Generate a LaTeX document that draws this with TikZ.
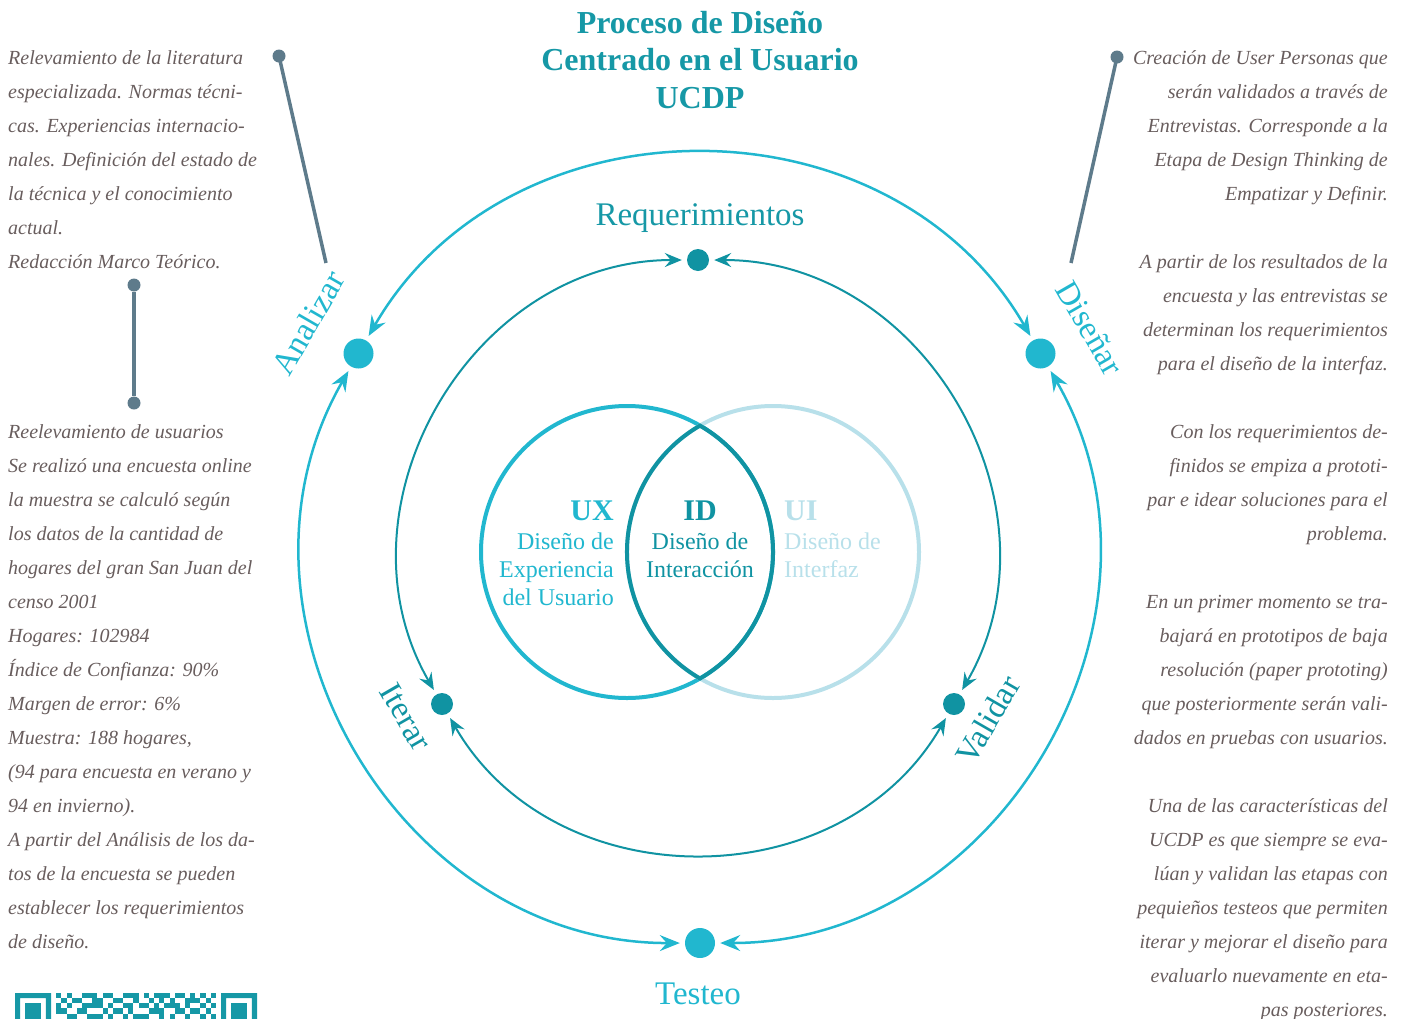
\documentclass[tikz,border=0pt]{standalone}
\usepackage{fontspec}
\setmainfont{Liberation Serif}
\usetikzlibrary{arrows.meta, positioning}
\definecolor{cian}{RGB}{33,183,207}
\definecolor{petroleo}{RGB}{16,147,162}
\definecolor{celeste}{RGB}{184,224,234}
\definecolor{titular}{RGB}{22,152,166}
\definecolor{gris}{RGB}{104,93,93}
\definecolor{pizarra}{RGB}{94,123,139}
\tikzset{
  etapa/.style    = {circle, fill=cian, inner sep=0pt, minimum size=30pt},
  subetapa/.style = {circle, fill=petroleo, inner sep=0pt, minimum size=22pt},
  ciclo/.style    = {<->, >={Stealth[length=20pt, width=16pt, inset=7pt]},
                     cian, line width=2.5pt, shorten <=5pt, shorten >=5pt},
  subciclo/.style = {<->, >={Stealth[length=17pt, width=14pt, inset=6pt]},
                     petroleo, line width=2pt, shorten <=5pt, shorten >=5pt},
  rotulo/.style   = {font=\fontsize{33}{36}\selectfont, inner sep=0pt},
  nota/.style     = {font=\fontsize{20}{34}\selectfont\itshape, text=gris, inner sep=0pt},
  venn/.style     = {line width=4pt},
  venntxt/.style  = {font=\fontsize{24}{28}\selectfont, inner sep=0pt},
  sigla/.style    = {font=\bfseries\fontsize{30}{32}\selectfont, inner sep=0pt},
  guia/.style     = {pizarra, line width=3.5pt},
  remate/.style   = {circle, fill=pizarra, inner sep=0pt, minimum size=13pt},
  qr/.style       = {fill=titular}
}

\begin{document}
\begin{tikzpicture}[x=1pt, y=1pt]
  \useasboundingbox (0,0) rectangle (1406,-1018);

  % título
  \node (titulo) [font=\bfseries\fontsize{32}{37.5}\selectfont, text=titular,
                  align=center, inner sep=0pt] at (700,-60)
    {Proceso de Diseño\\Centrado en el Usuario\\UCDP};

  % diagrama de Venn
  \draw[venn, cian] (627,-552) circle (146);
  \draw[venn, celeste] (773,-552) circle (146);
  \draw[venn, petroleo] (700,-425.6) arc[start angle=60, end angle=-60, radius=146]
                        arc[start angle=240, end angle=120, radius=146] -- cycle;

  \node (ux) [sigla, text=cian, anchor=east] at (614,-511) {UX};
  \node (uxtxt) [venntxt, text=cian, align=right, anchor=base east] at (614,-605)
    {Diseño de\\Experiencia\\del Usuario};
  \node (id) [sigla, text=petroleo] at (700,-511) {ID};
  \node (idtxt) [venntxt, text=petroleo, align=center, anchor=base] at (700,-577)
    {Diseño de\\Interacción};
  \node (ui) [sigla, text=celeste, anchor=west] at (784,-511) {UI};
  \node (uitxt) [venntxt, text=celeste, align=left, anchor=base west] at (784,-577)
    {Diseño de\\Interfaz};

  % etapas del ciclo externo e interno
  \node (analizar) [etapa] at (358.5,-353.5) {};
  \node (disenar)  [etapa] at (1040.5,-353.5) {};
  \node (testeo)   [etapa] at (700,-943) {};
  \node (req)      [subetapa] at (698,-260) {};
  \node (validar)  [subetapa] at (954,-704) {};
  \node (iterar)   [subetapa] at (442,-704) {};

  \draw[ciclo] (analizar) to[bend left=60, looseness=1.1] (disenar);
  \draw[ciclo] (disenar) to[bend left=60, looseness=1.1] (testeo);
  \draw[ciclo] (testeo) to[bend left=60, looseness=1.1] (analizar);
  \draw[subciclo] (req) to[bend left=60, looseness=1.1] (validar);
  \draw[subciclo] (validar) to[bend left=60, looseness=1.1] (iterar);
  \draw[subciclo] (iterar) to[bend left=60, looseness=1.1] (req);

  % rótulos de las etapas
  \node (lreq)      [rotulo, text=titular] at (700,-218) {Requerimientos};
  \node (ltesteo)   [rotulo, text=cian] at (698,-994) {Testeo};
  \node (lanalizar) [rotulo, text=cian, rotate=60] at (308,-323) {Analizar};
  \node (ldisenar)  [rotulo, text=cian, rotate=-60] at (1090,-328) {Diseñar};
  \node (literar)   [rotulo, text=petroleo, rotate=-60] at (406,-717) {Iterar};
  \node (lvalidar)  [rotulo, text=petroleo, rotate=60] at (988,-720) {Validar};

  % notas laterales
  \node (nota1) [nota, align=left, anchor=base west] at (8,-268)
    {Relevamiento de la literatura\\especializada. Normas técni-\\cas. Experiencias internacio-\\nales. Definición del estado de\\la técnica y el conocimiento\\actual.\\Redacción Marco Teórico.};
  \node (nota2) [nota, align=left, anchor=base west] at (8,-948)
    {Reelevamiento de usuarios\\Se realizó una encuesta online\\la muestra se calculó según\\los datos de la cantidad de\\hogares del gran San Juan del\\censo 2001\\Hogares: 102984\\Índice de Confianza: 90\%\\Margen de error: 6\%\\Muestra: 188 hogares,\\(94 para encuesta en verano y\\94 en invierno).\\A partir del Análisis de los da-\\tos de la encuesta se pueden\\establecer los requerimientos\\de diseño.};
  \node (nota3) [nota, align=right, anchor=base east] at (1388,-1016)
    {Creación de User Personas que\\serán validados a través de\\Entrevistas. Corresponde a la\\Etapa de Design Thinking de\\Empatizar y Definir.\\[34pt]
     A partir de los resultados de la\\encuesta y las entrevistas se\\determinan los requerimientos\\para el diseño de la interfaz.\\[34pt]
     Con los requerimientos de-\\finidos se empiza a prototi-\\par e idear soluciones para el\\problema.\\[34pt]
     En un primer momento se tra-\\bajará en prototipos de baja\\resolución (paper prototing)\\que posteriormente serán vali-\\dados en pruebas con usuarios.\\[34pt]
     Una de las características del\\UCDP es que siempre se eva-\\lúan y validan las etapas con\\pequieños testeos que permiten\\iterar y mejorar el diseño para\\evaluarlo nuevamente en eta-\\pas posteriores.};

  % líneas guía
  \node (g1) [remate] at (279,-56) {};
  \coordinate (g1f) at (326,-263);
  \draw[guia] (g1.center) -- (g1f);
  \node (g2a) [remate] at (134,-285) {};
  \node (g2b) [remate] at (134,-403) {};
  \draw[guia] (g2a) -- (g2b);
  \node (g3) [remate] at (1117,-57) {};
  \coordinate (g3f) at (1071,-263);
  \draw[guia] (g3.center) -- (g3f);

  % código QR (cortado)
  \fill[qr, even odd rule] (15,-993) rectangle ++(36.05,-36.05)
                           (20.15,-998.15) rectangle ++(25.75,-25.75);
  \fill[qr] (25.3,-1003.3) rectangle ++(15.45,-15.45);
  \fill[qr, even odd rule] (221,-993) rectangle ++(36.05,-36.05)
                           (226.15,-998.15) rectangle ++(25.75,-25.75);
  \fill[qr] (231.3,-1003.3) rectangle ++(15.45,-15.45);
  \foreach \r/\cols in {0/{8,10,13,14,15,17,18,21,22,23,25,27,28,29,31,32,34,36,38},
                        1/{9,11,12,15,16,19,20,23,26,28,30,33,34,35,37},
                        2/{8,10,13,14,15,16,18,21,22,24,25,27,29,30,31,33,36,38},
                        3/{8,9,12,13,17,19,20,22,26,27,28,31,32,34,35,37},
                        4/{10,11,14,15,16,18,21,23,24,25,28,30,33,36,38}}
    \foreach \c in \cols
      \fill[qr] ({15+5.15*\c},{-993-5.15*\r}) rectangle ++(5.15,-5.15);
\end{tikzpicture}
\end{document}
